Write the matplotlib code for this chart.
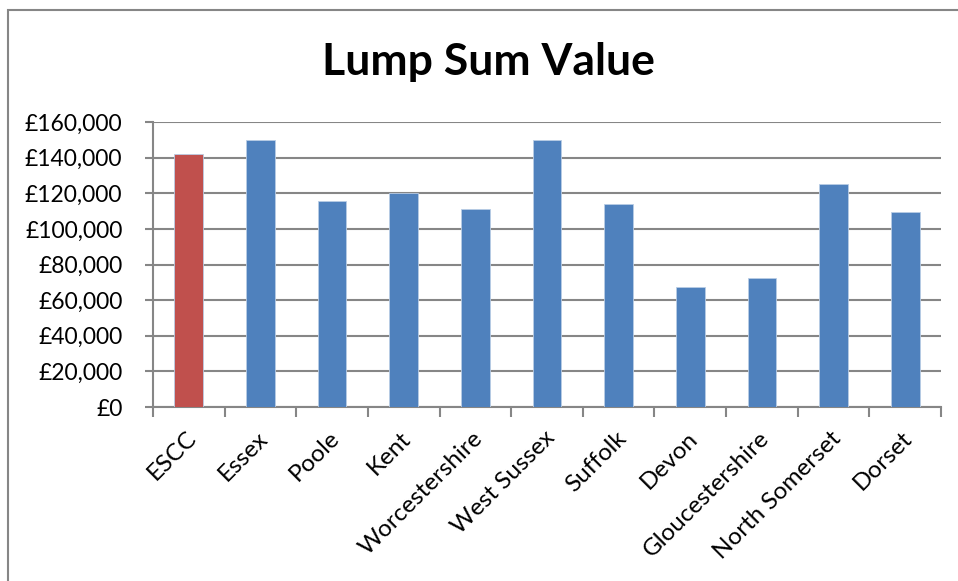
import matplotlib.pyplot as plt
from matplotlib.patches import Rectangle
from matplotlib.ticker import FuncFormatter
from matplotlib.transforms import ScaledTranslation
import numpy as np

plt.rcParams['font.family'] = ['Lato', 'DejaVu Sans']

councils = ['ESCC', 'Essex', 'Poole', 'Kent', 'Worcestershire', 'West Sussex',
            'Suffolk', 'Devon', 'Gloucestershire', 'North Somerset', 'Dorset']
lump_sum = [142000, 150000, 115700, 120000, 110900, 150000,
            113700, 67200, 72400, 125000, 109700]
bar_colors = ['#C0504D'] + ['#4F81BD'] * 10

grey = '#868686'

fig = plt.figure(figsize=(9.58, 5.81), dpi=100)
ax = fig.add_axes([153 / 958, 1 - 407 / 581, 788 / 958, 285 / 581])

x = np.arange(len(councils))
ax.bar(x, lump_sum, width=0.4, color=bar_colors, edgecolor='#B9CDE5', linewidth=0.6, zorder=3)

ax.set_xlim(-0.5, len(councils) - 0.5)
ax.set_ylim(0, 160000)
ax.set_yticks(np.arange(0, 160001, 20000))
ax.yaxis.set_major_formatter(FuncFormatter(lambda v, p: '£{:,.0f}'.format(v)))
ax.grid(axis='y', color=grey, linewidth=1.5, zorder=0)

ax.set_xticks(x)
ax.set_xticklabels(councils, rotation=45, ha='right', va='center', rotation_mode='anchor')
ax.set_xticks(np.arange(-0.5, len(councils), 1), minor=True)
ax.tick_params(axis='x', which='major', length=0, pad=20, labelsize=17.5)
ax.tick_params(axis='x', which='minor', length=7, width=1.5, color=grey)
ax.tick_params(axis='y', length=6, width=1.5, color=grey, pad=16, labelsize=16.5)
shift = ScaledTranslation(4 / 100, 0, fig.dpi_scale_trans)
for lab in ax.get_xticklabels():
    lab.set_transform(lab.get_transform() + shift)

for s in ['top', 'right']:
    ax.spines[s].set_visible(False)
for s in ['left', 'bottom']:
    ax.spines[s].set_color(grey)
    ax.spines[s].set_linewidth(1.5)

fig.text(488 / 958, 1 - 62 / 581, 'Lump Sum Value', ha='center', va='center',
         fontsize=32, fontweight='bold')

# chart area border (runs off the right and bottom edges)
fig.patches.append(Rectangle((8 / 958, -0.1), 1.2, 1 - 10 / 581 + 0.1, transform=fig.transFigure,
                             fill=False, edgecolor=grey, linewidth=1.5))

fig.savefig('out.png', dpi=100)
